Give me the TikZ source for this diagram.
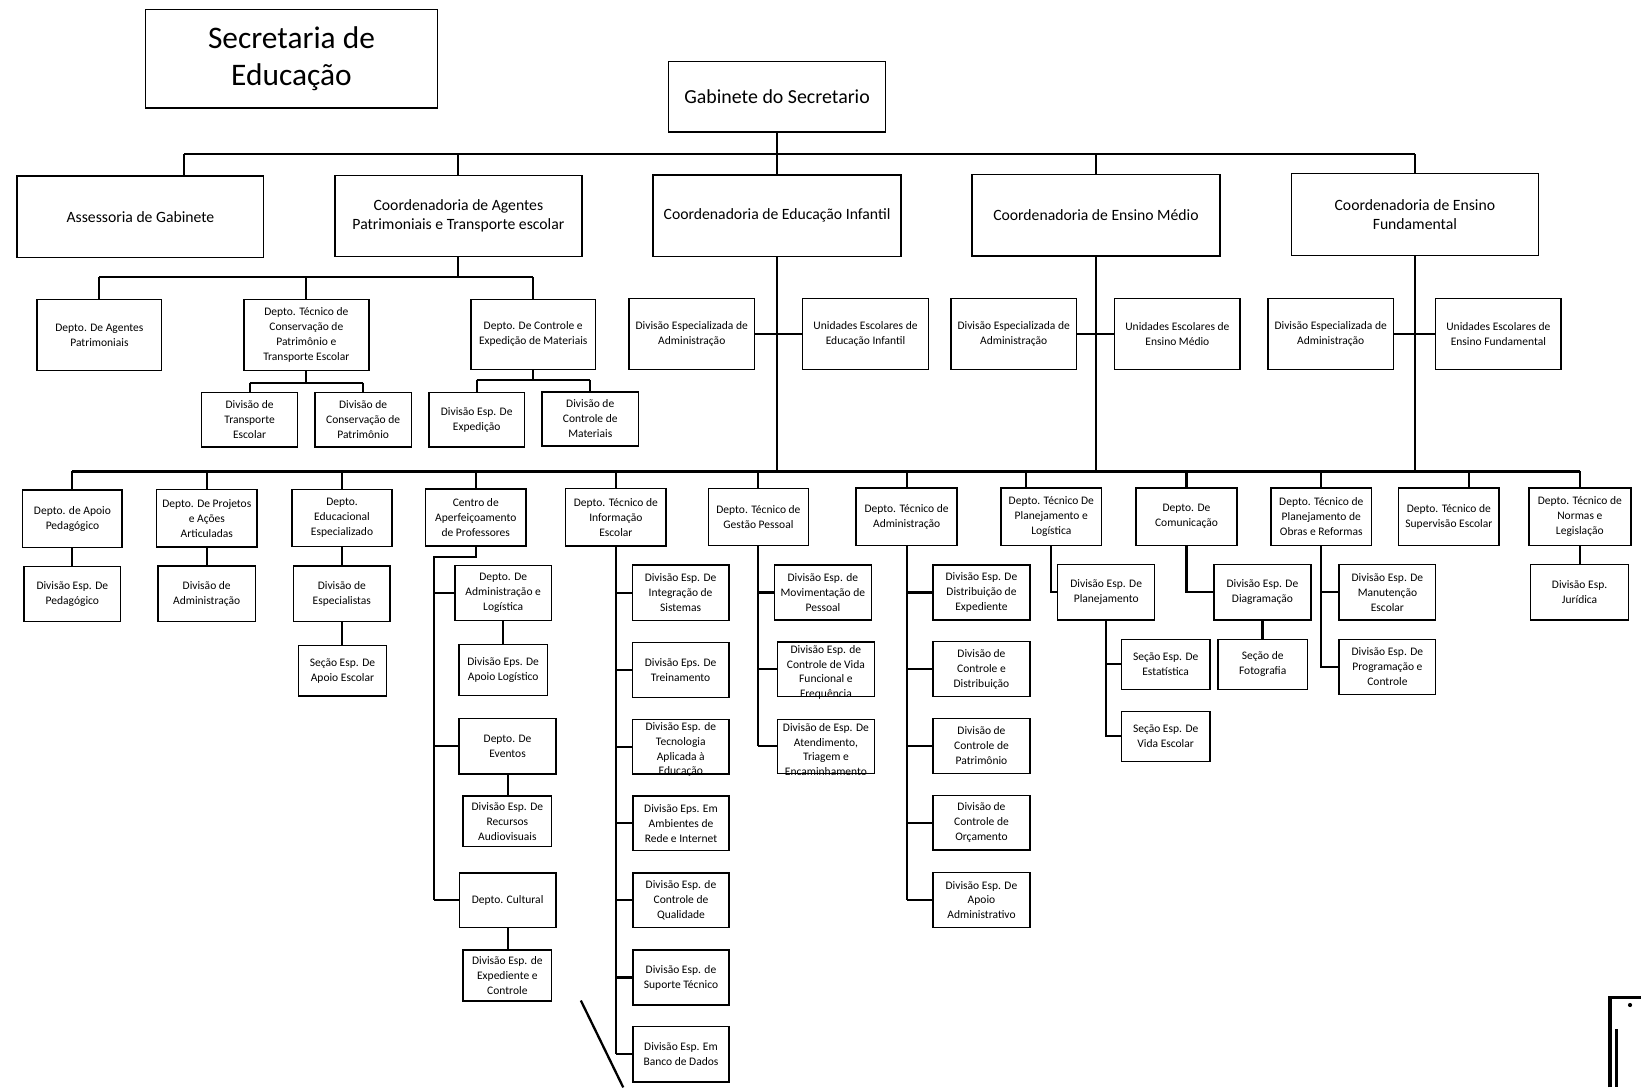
\documentclass[tikz,border=0pt]{standalone}
\usepackage{fontspec}
\setmainfont{Carlito}
\begin{document}
\begin{tikzpicture}[x=1pt,y=-1pt]

    \tikzset{
      caixa/.style={
        draw,
        line width=1.4pt,
        align=center,
        inner sep=0pt,
        font=\fontsize{11}{14.3}\selectfont,
      },
      caixamedia/.style={
        caixa,
        font=\fontsize{15}{18.3}\selectfont,
      },
      texto/.style={
        align=center,
        inner sep=0pt,
        font=\fontsize{11}{14}\selectfont,
      },
      tam/.style 2 args={minimum width=#1, minimum height=#2},
      liga/.style={line width=2pt},
    }
    \useasboundingbox (0,0) rectangle (1568,1039);

	\node[caixa, tam={279}{94}, font=\fontsize{30}{36}\selectfont] (sec) at (278.5,56) {Secretaria de\\Educação};
	\node[caixa, tam={207}{67}, font=\fontsize{19}{23}\selectfont] (gab) at (742.5,92.5) {Gabinete do Secretario};

	\node[caixamedia, tam={235.5}{78}] (ass) at (134.2,207) {Assessoria de Gabinete};
	\node[caixamedia, tam={236}{77.5}] (cap) at (438,206.2) {Coordenadoria de Agentes\\Patrimoniais e Transporte escolar};
	\node[caixamedia, tam={237}{78}] (cei) at (742.5,206) {Coordenadoria de Educação Infantil};
	\node[caixamedia, tam={237}{78}] (cem) at (1047.2,205.5) {Coordenadoria de Ensino Médio};
	\node[caixamedia, tam={236}{78}] (cef) at (1351.9,205) {Coordenadoria de Ensino\\Fundamental};

	\node[caixa, tam={119}{68}] (dagp) at (95,320) {Depto. De Agentes\\Patrimoniais};
	\node[caixa, tam={119.5}{68}] (dtcp) at (292.7,320) {Depto. Técnico de\\Conservação de\\Patrimônio e\\Transporte Escolar};
	\node[caixa, tam={119}{67}] (dcem) at (509.5,319.5) {Depto. De Controle e\\Expedição de Materiais};
	\node[caixa, tam={92}{52}] (dte) at (238.5,401) {Divisão de\\Transporte\\Escolar};
	\node[caixa, tam={92}{52}] (dcp) at (347,401) {Divisão de\\Conservação de\\Patrimônio};
	\node[caixa, tam={91}{52}] (dee) at (455.5,401) {Divisão Esp. De\\Expedição};
	\node[caixa, tam={92}{51.5}] (dcm) at (564,400.3) {Divisão de\\Controle de\\Materiais};

	\node[caixa, tam={120}{68}] (deaei) at (661,319) {Divisão Especializada de\\Administração};
	\node[caixa, tam={120}{68}] (uei) at (827,319) {Unidades Escolares de\\Educação Infantil};
	\node[caixa, tam={120}{68}] (deaem) at (968.6,319) {Divisão Especializada de\\Administração};
	\node[caixa, tam={120}{68}] (uem) at (1125,319) {Unidades Escolares de\\Ensino Médio};
	\node[caixa, tam={120}{68}] (deaef) at (1271.5,319) {Divisão Especializada de\\Administração};
	\node[caixa, tam={120}{68}] (uef) at (1431.7,319) {Unidades Escolares de\\Ensino Fundamental};

	\node[caixa, tam={95}{54.6}] (dap) at (69.2,495.6) {Depto. de Apoio\\Pedagógico};
	\node[caixa, tam={96}{54.6}] (dpa) at (197.6,495.2) {Depto. De Projetos\\e Ações\\Articuladas};
	\node[caixa, tam={95.7}{54.6}] (dee2) at (326.8,494.9) {Depto.\\Educacional\\Especializado};
	\node[caixa, tam={95.6}{54.6}] (cap2) at (454.6,494.5) {Centro de\\Aperfeiçoamento\\de Professores};
	\node[caixa, tam={96}{54.6}] (dtie) at (588.5,494.3) {Depto. Técnico de\\Informação\\Escolar};
	\node[caixa, tam={95.3}{54.6}] (dtgp) at (724.7,494) {Depto. Técnico de\\Gestão Pessoal};
	\node[caixa, tam={96.6}{54.6}] (dta) at (866.3,493.8) {Depto. Técnico de\\Administração};
	\node[caixa, tam={96.2}{54.6}] (dtpl) at (1004.5,493.7) {Depto. Técnico De\\Planejamento e\\Logística};
	\node[caixa, tam={96.5}{54.6}] (dcom) at (1133.7,493.7) {Depto. De\\Comunicação};
	\node[caixa, tam={95.7}{54.6}] (dtpo) at (1262.5,493.7) {Depto. Técnico de\\Planejamento de\\Obras e Reformas};
	\node[caixa, tam={95.8}{54.6}] (dtse) at (1384.4,493.7) {Depto. Técnico de\\Supervisão Escolar};
	\node[caixa, tam={97.5}{54.6}] (dtnl) at (1509.5,493.7) {Depto. Técnico de\\Normas e\\Legislação};

	\node[caixa, tam={92}{52.6}] (dped) at (69.1,567.7) {Divisão Esp. De\\Pedagógico};
	\node[caixa, tam={93}{52.8}] (dadm) at (197.5,567.2) {Divisão de\\Administração};
	\node[caixa, tam={92.2}{52.8}] (desp) at (326.6,567.2) {Divisão de\\Especialistas};
	\node[caixa, tam={84.3}{48.4}] (sae) at (327.2,640.8) {Seção Esp. De\\Apoio Escolar};

	\node[caixa, tam={92.5}{52.5}] (dal) at (480.8,566.5) {Depto. De\\Administração e\\Logística};
	\node[caixa, tam={84.3}{48.4}] (dal2) at (480.8,640.2) {Divisão Eps. De\\Apoio Logístico};
	\node[caixa, tam={92.8}{52.8}] (dev) at (485,713.1) {Depto. De\\Eventos};
	\node[caixa, tam={84.5}{48.4}] (drav) at (484.8,784.8) {Divisão Esp. De\\Recursos\\Audiovisuais};
	\node[caixa, tam={92.1}{52.5}] (dcul) at (485,860.2) {Depto. Cultural};
	\node[caixa, tam={84.5}{48.5}] (dexc) at (484.8,932) {Divisão Esp. de\\Expediente e\\Controle};

	\node[caixa, tam={92.2}{52.7}] (dis) at (650.3,566.4) {Divisão Esp. De\\Integração de\\Sistemas};
	\node[caixa, tam={92.2}{52.3}] (dtr) at (650.3,640.2) {Divisão Eps. De\\Treinamento};
	\node[caixa, tam={92.2}{52.2}] (dtae) at (650.5,713.4) {};
	\node[texto] (dtaetx) at (650.5,716.4) {Divisão Esp. de\\Tecnologia\\Aplicada à\\Educação};
	\node[caixa, tam={92.1}{52.2}] (drei) at (650.7,786.7) {Divisão Eps. Em\\Ambientes de\\Rede e Internet};
	\node[caixa, tam={92.1}{52.5}] (dcq) at (650.7,860.2) {Divisão Esp. de\\Controle de\\Qualidade};
	\node[caixa, tam={92.1}{52.6}] (dst) at (650.7,934) {Divisão Esp. de\\Suporte Técnico};
	\node[caixa, tam={92.1}{52.9}] (dbd) at (650.7,1007.5) {Divisão Esp. Em\\Banco de Dados};

	\node[caixa, tam={92.8}{52.6}] (dmp) at (786.3,566.1) {Divisão Esp. de\\Movimentação de\\Pessoal};
	\node[caixa, tam={92.4}{52.2}] (dcvf) at (789.2,639.5) {};
	\node[texto] (dcvftx) at (789.2,642.5) {Divisão Esp. de\\Controle de Vida\\Funcional e\\Frequência};
	\node[caixa, tam={92.4}{51.6}] (date) at (789.2,713.1) {};
	\node[texto] (datetx) at (789.2,716.1) {Divisão de Esp. De\\Atendimento,\\Triagem e\\Encaminhamento};

	\node[caixa, tam={92.6}{52.6}] (dde) at (937.8,566.1) {Divisão Esp. De\\Distribuição de\\Expediente};
	\node[caixa, tam={92.6}{52.6}] (dcd) at (937.8,639.3) {Divisão de\\Controle e\\Distribuição};
	\node[caixa, tam={92.6}{52.2}] (dcpat) at (937.8,712.8) {Divisão de\\Controle de\\Patrimônio};
	\node[caixa, tam={92.6}{52.2}] (dco) at (937.8,786.1) {Divisão de\\Controle de\\Orçamento};
	\node[caixa, tam={92.6}{52.2}] (daa) at (937.8,860) {Divisão Esp. De\\Apoio\\Administrativo};

	\node[caixa, tam={92.7}{52.9}] (dpla) at (1057,566) {Divisão Esp. De\\Planejamento};
	\node[caixa, tam={84.7}{47.7}] (sest) at (1113.8,634.8) {Seção Esp. De\\Estatística};
	\node[caixa, tam={84.7}{47.7}] (sve) at (1113.8,703.6) {Seção Esp. De\\Vida Escolar};
	\node[caixa, tam={92.6}{52.9}] (ddia) at (1206.3,566) {Divisão Esp. De\\Diagramação};
	\node[caixa, tam={85.3}{47.7}] (sfot) at (1206.5,634.8) {Seção de\\Fotografia};
	\node[caixa, tam={92.3}{52.9}] (dme) at (1325.7,566) {Divisão Esp. De\\Manutenção\\Escolar};
	\node[caixa, tam={92.3}{52.8}] (dpc) at (1325.7,637.3) {Divisão Esp. De\\Programação e\\Controle};
	\node[caixa, tam={93.4}{52.9}] (dju) at (1509.3,566) {Divisão Esp.\\Jurídica};

	\coordinate (bus1) at (742.5,147.5);
	\coordinate (bus1e) at (176,147.5);
	\coordinate (bus1d) at (1352,147.5);
	\draw[liga] (gab.south) -- (bus1);
	\draw[liga] (bus1e) -- (bus1d);
	\draw[liga] (bus1e) -- (bus1e |- ass.north);
	\draw[liga] (cap.north |- bus1) -- (cap.north);
	\draw[liga] (bus1) -- (cei.north);
	\draw[liga] (cem.north |- bus1) -- (cem.north);
	\draw[liga] (bus1d) -- (bus1d |- cef.north);

	\coordinate (bus2) at (438,265);
	\draw[liga] (cap.south) -- (bus2);
	\draw[liga] (dagp.north |- bus2) -- (dcem.north |- bus2);
	\draw[liga] (dagp.north |- bus2) -- (dagp.north);
	\draw[liga] (dtcp.north |- bus2) -- (dtcp.north);
	\draw[liga] (dcem.north |- bus2) -- (dcem.north);

	\coordinate (bus4) at (292.7,365.6);
	\draw[liga] (dtcp.south) -- (bus4);
	\draw[liga] (dte.north |- bus4) -- (dcp.north |- bus4);
	\draw[liga] (dte.north |- bus4) -- (dte.north);
	\draw[liga] (dcp.north |- bus4) -- (dcp.north);
	\coordinate (bus5) at (509.5,363);
	\draw[liga] (dcem.south) -- (bus5);
	\draw[liga] (dee.north |- bus5) -- (dcm.north |- bus5);
	\draw[liga] (dee.north |- bus5) -- (dee.north);
	\draw[liga] (dcm.north |- bus5) -- (dcm.north);

	\draw[liga] (deaei.east) -- (uei.west);
	\draw[liga] (deaem.east) -- (uem.west);
	\draw[liga] (deaef.east) -- (uef.west);

	\coordinate (bus3) at (742.5,450.5);
	\coordinate (dtplt) at (980,466.4);
	\coordinate (dtset) at (1403.7,466.4);
	\draw[liga] (cei.south) -- (bus3);
	\draw[liga] (cem.south) -- (cem.south |- bus3);
	\draw[liga] (cef.south) -- (cef.south |- bus3);
	\draw[liga] (dap.north |- bus3) -- (dtnl.north |- bus3);
	\draw[liga] (dap.north |- bus3) -- (dap.north);
	\draw[liga] (dpa.north |- bus3) -- (dpa.north);
	\draw[liga] (dee2.north |- bus3) -- (dee2.north);
	\draw[liga] (cap2.north |- bus3) -- (cap2.north);
	\draw[liga] (dtie.north |- bus3) -- (dtie.north);
	\draw[liga] (dtgp.north |- bus3) -- (dtgp.north);
	\draw[liga] (dta.north |- bus3) -- (dta.north);
	\draw[liga] (dtplt |- bus3) -- (dtplt);
	\draw[liga] (dcom.north |- bus3) -- (dcom.north);
	\draw[liga] (dtpo.north |- bus3) -- (dtpo.north);
	\draw[liga] (dtset |- bus3) -- (dtset);
	\draw[liga] (dtnl.north |- bus3) -- (dtnl.north);

	\draw[liga] (dap.south) -- (dap.south |- dped.north);
	\draw[liga] (dpa.south) -- (dpa.south |- dadm.north);
	\draw[liga] (dee2.south) -- (dee2.south |- desp.north);
	\draw[liga] (desp.south) -- (desp.south |- sae.north);

	\coordinate (ct) at (414.4,531.9);
	\draw[liga] (cap2.south) |- (ct) -- (ct |- dcul.west);
	\draw[liga] (ct |- dal.west) -- (dal.west);
	\draw[liga] (ct |- dev.west) -- (dev.west);
	\draw[liga] (ct |- dcul.west) -- (dcul.west);
	\draw[liga] (dal.south) -- (dal.south |- dal2.north);
	\draw[liga] (dev.south) -- (dev.south |- drav.north);
	\draw[liga] (dcul.south) -- (dcul.south |- dexc.north);

	\draw[liga] (dtie.south) -- (dtie.south |- dbd.west);
	\draw[liga] (dtie.south |- dis.west) -- (dis.west);
	\draw[liga] (dtie.south |- dtr.west) -- (dtr.west);
	\draw[liga] (dtie.south |- dtae.west) -- (dtae.west);
	\draw[liga] (dtie.south |- drei.west) -- (drei.west);
	\draw[liga] (dtie.south |- dcq.west) -- (dcq.west);
	\draw[liga] (dtie.south |- dst.west) -- (dst.west);
	\draw[liga] (dtie.south |- dbd.west) -- (dbd.west);

	\draw[liga] (dtgp.south) -- (dtgp.south |- date.west);
	\draw[liga] (dtgp.south |- dmp.west) -- (dmp.west);
	\draw[liga] (dtgp.south |- dcvf.west) -- (dcvf.west);
	\draw[liga] (dtgp.south |- date.west) -- (date.west);

	\draw[liga] (dta.south) -- (dta.south |- daa.west);
	\draw[liga] (dta.south |- dde.west) -- (dde.west);
	\draw[liga] (dta.south |- dcd.west) -- (dcd.west);
	\draw[liga] (dta.south |- dcpat.west) -- (dcpat.west);
	\draw[liga] (dta.south |- dco.west) -- (dco.west);
	\draw[liga] (dta.south |- daa.west) -- (daa.west);

	\draw[liga] (dtpl.south) |- (dpla.west);
	\draw[liga] (dpla.south) |- (sve.west);
	\draw[liga] (dpla.south |- sest.west) -- (sest.west);
	\draw[liga] (dcom.south) |- (ddia.west);
	\draw[liga] (ddia.south) -- (ddia.south |- sfot.north);
	\draw[liga] (dtpo.south) |- (dpc.west);
	\draw[liga] (dtpo.south |- dme.west) -- (dme.west);
	\draw[liga] (dtnl.south) -- (dtnl.south |- dju.north);

	\draw[line width=2.2pt] (555,956) -- (595.5,1039);
	\draw[line width=3pt] (1538.4,1039) -- (1538.4,953) -- (1568,953);
	\draw[line width=2.5pt] (1544.8,983.6) -- (1544.8,1039);
	\fill (1557.5,960.3) circle (2);

\end{tikzpicture}
\end{document}
